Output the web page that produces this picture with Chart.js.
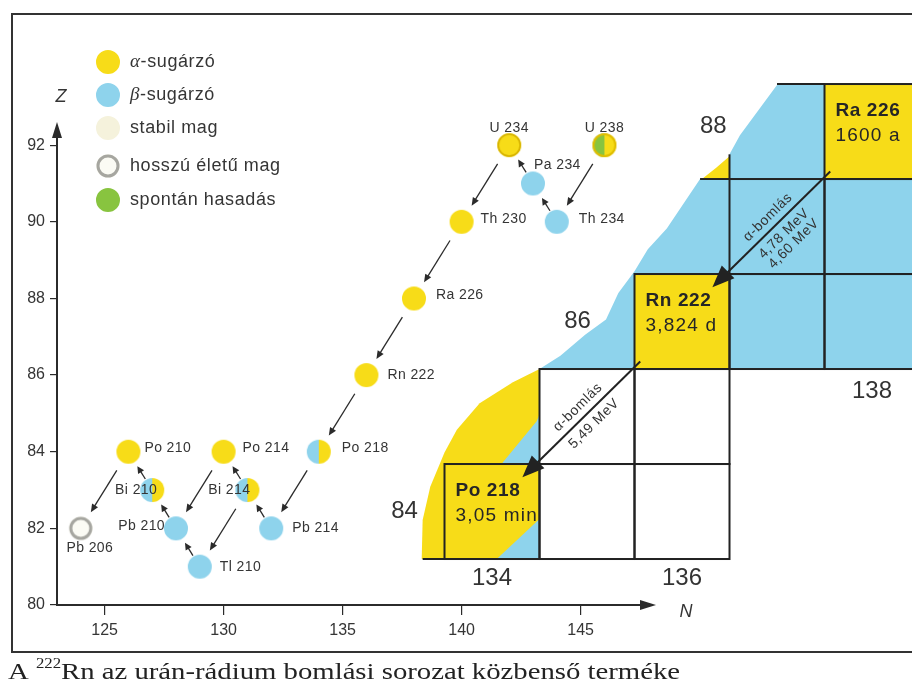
<!DOCTYPE html>
<html>
<head>
<meta charset="utf-8">
<script src="https://cdn.jsdelivr.net/npm/chart.js@4.4.1/dist/chart.umd.min.js"></script>
<style>
  html, body { margin: 0; padding: 0; background: #fff; }
  #wrap { position: relative; width: 912px; height: 686px; overflow: hidden; }
  #main { position: absolute; left: 0; top: 0; }
  #inset { position: absolute; left: 380px; top: 60px; }
</style>
</head>
<body>
<div id="wrap">
  <canvas id="main" width="912" height="686"></canvas>
  <canvas id="inset" width="532" height="560"></canvas>
</div>
<script>
// --- adatok: az urán-rádium bomlási sor tagjai (N, Z) ---
const nuclides  = ['U 238', 'Th 234', 'Pa 234', 'U 234', 'Th 230', 'Ra 226', 'Rn 222', 'Po 218',
                   'Pb 214', 'Bi 214', 'Po 214', 'Tl 210', 'Pb 210', 'Bi 210', 'Po 210', 'Pb 206'];
const neutronN  = [146, 144, 143, 142, 140, 138, 136, 134, 132, 131, 130, 129, 128, 127, 126, 124];
const protonZ   = [92, 90, 91, 92, 90, 88, 86, 84, 82, 83, 84, 81, 82, 83, 84, 82];
const decayKind = ['fission-alpha-long', 'beta', 'beta', 'alpha-long', 'alpha', 'alpha', 'alpha', 'beta-alpha',
                   'beta', 'beta-alpha', 'alpha', 'beta', 'beta', 'beta-alpha', 'alpha', 'long'];
const alphaFrom = ['U 238', 'U 234', 'Th 230', 'Ra 226', 'Rn 222', 'Po 218', 'Po 214', 'Bi 214', 'Po 210'];
const betaFrom  = ['Th 234', 'Pa 234', 'Pb 214', 'Bi 214', 'Tl 210', 'Pb 210', 'Bi 210'];
const xTicks = [125, 130, 135, 140, 145];
const yTicks = [80, 82, 84, 86, 88, 90, 92];
const legendText = ['α-sugárzó', 'β-sugárzó', 'stabil mag', 'hosszú életű mag', 'spontán hasadás'];
const legendKind = ['alpha', 'beta', 'stable', 'long', 'fission'];
const caption = ['A ', '222', 'Rn az urán-rádium bomlási sorozat közbenső terméke'];

// --- kinagyított részlet (nuklidtérkép) ---
const cellName = ['Po 218', 'Rn 222', 'Ra 226'];
const cellLife = ['3,05 min', '3,824 d', '1600 a'];
const cellN    = [134, 136, 138];
const cellZ    = [84, 86, 88];
const emptyN   = [135, 136, 135, 136];
const emptyZ   = [84, 84, 85, 85];
const betaCellN = [137, 138, 137, 138];
const betaCellZ = [86, 86, 87, 87];
const rowLabels = [84, 86, 88];
const colLabels = [134, 136, 138];
const alphaText = [['5,49 MeV'], ['4,78 MeV', '4,60 MeV']];

const YELLOW = '#f7dc18', BLUE = '#8ed3ec', GREEN = '#88c43f', INK = '#2b2b2b', TXT = '#353535';
Chart.defaults.font.family = '"Liberation Sans", Arial, sans-serif';

function makeMark(kind) {
  const r = 12, m = r + 3, c = document.createElement('canvas');
  c.width = c.height = 2 * m;
  const g = c.getContext('2d');
  const part = (col, a0, a1) => {
    g.fillStyle = col; g.beginPath(); g.moveTo(m, m); g.arc(m, m, r, a0, a1); g.closePath(); g.fill();
  };
  const ring = (col, w, rr) => { g.strokeStyle = col; g.lineWidth = w; g.beginPath(); g.arc(m, m, rr, 0, 2 * Math.PI); g.stroke(); };
  if (kind === 'alpha') part(YELLOW, 0, 2 * Math.PI);
  if (kind === 'beta') part(BLUE, 0, 2 * Math.PI);
  if (kind === 'fission') part(GREEN, 0, 2 * Math.PI);
  if (kind === 'stable') part('#f5f2dc', 0, 2 * Math.PI);
  if (kind === 'beta-alpha') { part(BLUE, Math.PI / 2, Math.PI * 1.5); part(YELLOW, -Math.PI / 2, Math.PI / 2); }
  if (kind === 'alpha-long') { part(YELLOW, 0, 2 * Math.PI); ring('#d4b000', 1.6, r - 1); }
  if (kind === 'fission-alpha-long') {
    part(GREEN, Math.PI / 2, Math.PI * 1.5); part(YELLOW, -Math.PI / 2, Math.PI / 2); ring('#e0bd00', 2, r - 1);
  }
  if (kind === 'long') { part('#fbfbf4', 0, 2 * Math.PI); ring('#a6a6a0', 3, r - 2); }
  return c;
}
const marks = {};
[...decayKind, ...legendKind].forEach(k => { if (!marks[k]) marks[k] = makeMark(k); });

function arrow(ctx, x1, y1, x2, y2, head, hw, lw) {
  const a = Math.atan2(y2 - y1, x2 - x1), c = Math.cos(a), s = Math.sin(a);
  ctx.lineWidth = lw;
  ctx.beginPath(); ctx.moveTo(x1, y1); ctx.lineTo(x2 - c * head * 0.7, y2 - s * head * 0.7); ctx.stroke();
  ctx.beginPath(); ctx.moveTo(x2, y2);
  ctx.lineTo(x2 - head * c + hw * s, y2 - head * s - hw * c);
  ctx.lineTo(x2 - head * c - hw * s, y2 - head * s + hw * c);
  ctx.closePath(); ctx.fill();
}

// címkék helye a pont körül (dx, dy, igazítás)
const labelPlace = {
  'U 238': [0, -17, 'center'], 'U 234': [0, -17, 'center'], 'Pa 234': [1, -18, 'left'],
  'Th 234': [22, -3, 'left'], 'Th 230': [19, -3, 'left'], 'Ra 226': [22, -3, 'left'],
  'Rn 222': [21, 0, 'left'], 'Po 218': [23, -4, 'left'], 'Pb 214': [21, 0, 'left'],
  'Bi 214': [3, 0, 'right'], 'Po 214': [19, -4, 'left'], 'Tl 210': [20, 0, 'left'],
  'Pb 210': [-11, -2, 'right'], 'Bi 210': [5, 0, 'right'], 'Po 210': [16, -4, 'left'],
  'Pb 206': [9, 20, 'center']
};

const decor = {
  id: 'decor',
  beforeDraw(chart) {
    const { ctx } = chart;
    ctx.save();
    ctx.fillStyle = '#fff'; ctx.fillRect(0, 0, chart.width, chart.height);
    ctx.strokeStyle = '#333'; ctx.lineWidth = 2;
    ctx.strokeRect(12, 14, 920, 638);
    ctx.restore();
  },
  afterDatasetsDraw(chart) {
    const { ctx } = chart;
    const pts = chart.getDatasetMeta(0).data;
    const at = (n, z) => pts[neutronN.findIndex((v, i) => v === n && protonZ[i] === z)];
    ctx.save();
    ctx.strokeStyle = INK; ctx.fillStyle = INK;
    const link = (a, b, d0, d1, head, hw) => {
      const dx = b.x - a.x, dy = b.y - a.y, L = Math.hypot(dx, dy);
      arrow(ctx, a.x + dx / L * d0, a.y + dy / L * d0, b.x - dx / L * d1, b.y - dy / L * d1, head, hw, 1.3);
    };
    alphaFrom.forEach(name => {
      const i = nuclides.indexOf(name);
      link(pts[i], at(neutronN[i] - 2, protonZ[i] - 2), 22, 19, 8, 3.5);
    });
    betaFrom.forEach(name => {
      const i = nuclides.indexOf(name);
      link(pts[i], at(neutronN[i] - 1, protonZ[i] + 1), 13, 17, 7, 3.5);
    });
    ctx.font = '14px "Liberation Sans", Arial, sans-serif';
    ctx.letterSpacing = '0.4px';
    ctx.fillStyle = TXT; ctx.textBaseline = 'middle';
    nuclides.forEach((name, i) => {
      const [dx, dy, al] = labelPlace[name];
      ctx.textAlign = al;
      ctx.fillText(name, pts[i].x + dx, pts[i].y + dy);
    });
    ctx.restore();
  },
  afterDraw(chart) {
    const { ctx, chartArea: ca } = chart;
    ctx.save();
    ctx.fillStyle = INK;
    // tengelyek nyilai
    ctx.beginPath(); ctx.moveTo(ca.left, ca.top - 4); ctx.lineTo(ca.left - 5, ca.top + 12); ctx.lineTo(ca.left + 5, ca.top + 12); ctx.closePath(); ctx.fill();
    ctx.beginPath(); ctx.moveTo(ca.right + 4, ca.bottom); ctx.lineTo(ca.right - 12, ca.bottom - 5); ctx.lineTo(ca.right - 12, ca.bottom + 5); ctx.closePath(); ctx.fill();
    ctx.fillStyle = TXT; ctx.textAlign = 'center'; ctx.textBaseline = 'middle';
    ctx.font = 'italic 18px "Liberation Sans", Arial, sans-serif';
    ctx.fillText('Z', ca.left + 4, 97);
    ctx.fillText('N', ca.right + 34, ca.bottom + 7);
    // jelmagyarázat
    const ly = [62, 95, 128, 166, 200];
    ctx.letterSpacing = '0.6px';
    legendKind.forEach((k, i) => {
      const mk = marks[k];
      ctx.drawImage(mk, 108 - mk.width / 2, ly[i] - mk.height / 2);
      ctx.textAlign = 'left';
      let x = 130;
      let t = legendText[i];
      if (t[0] === 'α' || t[0] === 'β') {
        ctx.font = 'italic 19px "Liberation Serif", serif';
        ctx.fillText(t[0], x, ly[i]);
        x += ctx.measureText(t[0]).width;
        t = t.slice(1);
      }
      ctx.font = '18px "Liberation Sans", Arial, sans-serif';
      ctx.fillText(t, x, ly[i]);
    });
    ctx.letterSpacing = '0px';
    // képaláírás: széles, szkennelt hatású szedés
    ctx.textBaseline = 'alphabetic'; ctx.textAlign = 'left'; ctx.fillStyle = '#222';
    ctx.font = '24px "Liberation Serif", serif';
    const wA = ctx.measureText(caption[0]).width, wR = ctx.measureText(caption[2]).width;
    ctx.font = '14px "Liberation Serif", serif';
    const wS = ctx.measureText(caption[1]).width;
    const sx = (680 - 8) / (wA + wS + wR);
    ctx.translate(8, 0);
    ctx.scale(Math.max(1, sx), 1);
    ctx.font = '24px "Liberation Serif", serif';
    ctx.fillText(caption[0], 0, 679);
    ctx.font = '14px "Liberation Serif", serif';
    ctx.fillText(caption[1], wA, 668);
    ctx.font = '24px "Liberation Serif", serif';
    ctx.fillText(caption[2], wA + wS, 679);
    ctx.restore();
  }
};

new Chart(document.getElementById('main'), {
  type: 'scatter',
  data: {
    datasets: [{
      data: neutronN.map((n, i) => ({ x: n, y: protonZ[i] })),
      pointStyle: decayKind.map(k => marks[k]),
      pointRadius: 12,
      pointHoverRadius: 12
    }]
  },
  options: {
    responsive: false,
    animation: false,
    events: [],
    layout: { padding: { left: 10, top: 126, right: 260, bottom: 41 } },
    plugins: { legend: { display: false }, tooltip: { enabled: false } },
    scales: {
      x: {
        type: 'linear', min: 123, max: 148,
        afterBuildTicks: s => { s.ticks = xTicks.map(v => ({ value: v })); },
        afterFit: s => { s.height = 40; },
        grid: { drawOnChartArea: false, tickLength: 10, color: INK, lineWidth: 1.2 },
        border: { display: true, color: INK, width: 2 },
        ticks: { color: TXT, font: { size: 16 }, padding: 6, maxRotation: 0, autoSkip: false }
      },
      y: {
        type: 'linear', min: 80, max: 92.5,
        afterBuildTicks: s => { s.ticks = yTicks.map(v => ({ value: v })); },
        afterFit: s => { s.width = 47; },
        grid: { drawOnChartArea: false, tickLength: 7, color: INK, lineWidth: 1.2 },
        border: { display: true, color: INK, width: 2 },
        ticks: { color: TXT, font: { size: 16 }, padding: 5, autoSkip: false }
      }
    }
  },
  plugins: [decor]
});

// --- nuklidtérkép-részlet ---
const insetDraw = {
  id: 'insetDraw',
  afterDraw(chart) {
    const { ctx } = chart;
    const xs = chart.scales.x, ys = chart.scales.y;
    const X = v => xs.getPixelForValue(v), Y = v => ys.getPixelForValue(v);
    const poly = (pts, col) => {
      ctx.beginPath();
      pts.forEach(([n, z], i) => i ? ctx.lineTo(X(n), Y(z)) : ctx.moveTo(X(n), Y(z)));
      ctx.closePath(); ctx.fillStyle = col; ctx.fill();
    };
    const cell = (n, z, col) => {
      ctx.fillStyle = col;
      ctx.fillRect(X(n - 0.5), Y(z + 0.5), X(n + 0.5) - X(n - 0.5), Y(z - 0.5) - Y(z + 0.5));
    };
    const seg = (n1, z1, n2, z2) => { ctx.beginPath(); ctx.moveTo(X(n1), Y(z1)); ctx.lineTo(X(n2), Y(z2)); ctx.stroke(); };
    ctx.save();
    // béta-sugárzó tartomány
    poly([[137.0, 88.49], [138.7, 88.49], [138.7, 85.5], [134.5, 85.5], [134.72, 85.64], [134.98, 85.86],
          [135.2, 86.02], [135.33, 86.3], [135.5, 86.53], [135.64, 86.76], [135.84, 86.98], [136.19, 87.5],
          [136.5, 87.5], [136.5, 87.76], [136.61, 87.96]], BLUE);
    // alfa-sugárzó tartomány
    poly([[134.5, 85.5], [134.22, 85.36], [133.87, 85.14], [133.63, 84.86], [133.5, 84.62], [133.35, 84.26],
          [133.27, 83.91], [133.26, 83.5], [134.5, 83.5]], YELLOW);
    poly([[134.1, 84.5], [134.47, 84.95], [134.5, 85.02], [134.5, 84.5]], BLUE);
    poly([[136.21, 87.5], [136.5, 87.5], [136.5, 87.74], [136.36, 87.62]], YELLOW);
    emptyN.forEach((n, i) => cell(n, emptyZ[i], '#fff'));
    betaCellN.forEach((n, i) => cell(n, betaCellZ[i], BLUE));
    cellN.forEach((n, i) => cell(n, cellZ[i], YELLOW));
    poly([[134.05, 83.5], [134.5, 83.92], [134.5, 83.5]], BLUE);
    // rácsvonalak
    ctx.strokeStyle = '#222'; ctx.lineWidth = 2;
    const boxes = [[cellN, cellZ], [emptyN, emptyZ], [betaCellN, betaCellZ]];
    boxes.forEach(([ns, zs]) => ns.forEach((n, i) => {
      ctx.strokeRect(X(n - 0.5), Y(zs[i] + 0.5), X(n + 0.5) - X(n - 0.5), Y(zs[i] - 0.5) - Y(zs[i] + 0.5));
    }));
    seg(137.0, 88.5, 137.5, 88.5);
    seg(136.19, 87.5, 136.5, 87.5);
    seg(136.5, 87.5, 136.5, 87.76);
    seg(133.27, 83.5, 133.5, 83.5);
    // feliratok a cellákban
    ctx.fillStyle = '#262626'; ctx.textBaseline = 'middle'; ctx.textAlign = 'left';
    cellN.forEach((n, i) => {
      const x0 = X(n - 0.5) + 11, y0 = Y(cellZ[i] + 0.5);
      ctx.font = 'bold 19px "Liberation Sans", Arial, sans-serif';
      ctx.letterSpacing = '0.6px';
      ctx.fillText(cellName[i], x0, y0 + 27);
      ctx.font = '19px "Liberation Sans", Arial, sans-serif';
      ctx.letterSpacing = '1.2px';
      ctx.fillText(cellLife[i], x0, y0 + 52);
    });
    ctx.letterSpacing = '0px';
    ctx.font = '24px "Liberation Sans", Arial, sans-serif';
    ctx.fillStyle = '#333'; ctx.textAlign = 'center';
    const rowAt = [133.08, 134.9, 136.33];
    rowLabels.forEach((z, i) => ctx.fillText(String(z), X(rowAt[i]), Y(z + (i === 2 ? 0.05 : 0))));
    const colAt = [83.3, 83.3, 85.26];
    colLabels.forEach((n, i) => ctx.fillText(String(n), X(n), Y(colAt[i])));
    // alfa-bomlás nyilai
    ctx.fillStyle = '#222'; ctx.strokeStyle = '#222';
    for (let i = cellN.length - 1; i > 0; i--) {
      const tx = X(cellN[i] - 0.5 + 0.06), ty = Y(cellZ[i] - 0.5 + 0.08);
      const hx = X(cellN[i - 1] + 0.5 - 0.18), hy = Y(cellZ[i - 1] + 0.5 - 0.14);
      arrow(ctx, tx, ty, hx, hy, 22, 9, 2);
      const ang = Math.atan2(ty - hy, tx - hx);
      ctx.save();
      ctx.translate((tx + hx) / 2, (ty + hy) / 2);
      ctx.rotate(ang);
      ctx.font = '14px "Liberation Sans", Arial, sans-serif';
      ctx.letterSpacing = '0.6px';
      ctx.fillStyle = '#333'; ctx.textAlign = 'center';
      ctx.fillText('α-bomlás', 6, -11);
      alphaText[i - 1].forEach((t, k) => ctx.fillText(t, 6, 12 + k * 14));
      ctx.restore();
    }
    ctx.restore();
  }
};

new Chart(document.getElementById('inset'), {
  type: 'scatter',
  data: { datasets: [] },
  options: {
    responsive: false,
    animation: false,
    events: [],
    layout: { padding: 0 },
    plugins: { legend: { display: false }, tooltip: { enabled: false } },
    scales: {
      x: { type: 'linear', min: 132.821, max: 138.421, display: false },
      y: { type: 'linear', min: 82.858, max: 88.753, display: false }
    }
  },
  plugins: [insetDraw]
});
</script>
</body>
</html>
